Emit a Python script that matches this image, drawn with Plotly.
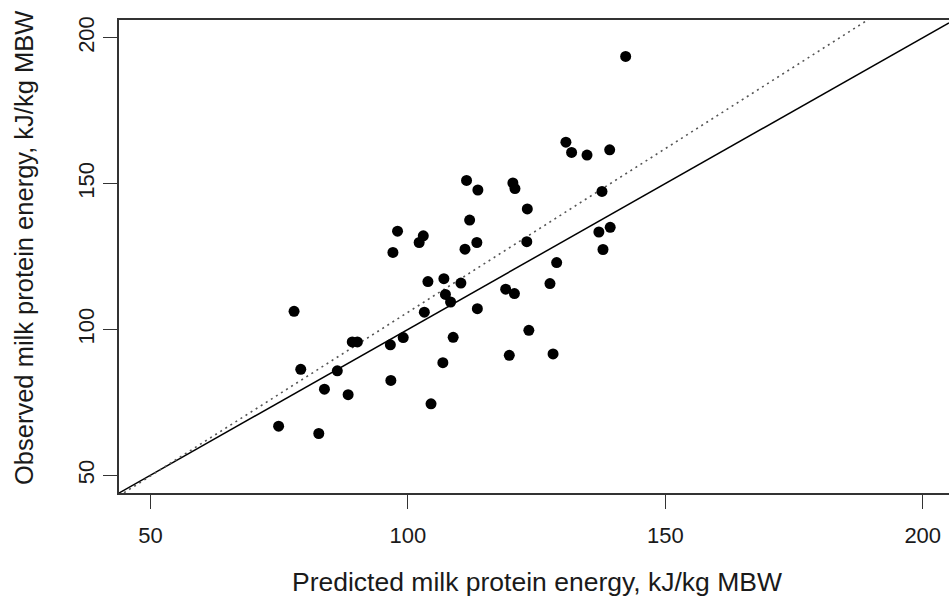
import plotly.graph_objects as go

# Predicted (x) and observed (y) milk protein energy, kJ/kg MBW
predicted = [142.3, 130.7, 131.8, 134.8, 139.2, 137.7, 111.4, 113.6, 120.4, 120.8,
             123.2, 112.0, 98.0, 103.0, 102.2, 113.4, 123.1, 111.1, 97.1, 137.1,
             139.3, 137.9, 77.9, 103.9, 107.0, 110.3, 128.9, 127.6, 119.0, 120.7,
             107.3, 108.3, 103.2, 113.5, 123.5, 89.2, 90.2, 99.1, 96.6, 108.8,
             79.2, 86.3, 106.8, 119.7, 128.2, 96.7, 83.8, 88.4, 104.5, 74.9, 82.7]
observed = [193.6, 164.2, 160.7, 159.8, 161.6, 147.3, 151.1, 147.8, 150.2, 148.3,
            141.3, 137.5, 133.7, 132.1, 129.8, 129.8, 130.1, 127.5, 126.4, 133.4,
            135.0, 127.4, 106.2, 116.4, 117.4, 115.9, 122.9, 115.7, 113.8, 112.3,
            112.0, 109.4, 105.9, 107.1, 99.7, 95.7, 95.7, 97.2, 94.7, 97.3,
            86.3, 85.8, 88.6, 91.1, 91.6, 82.5, 79.5, 77.6, 74.5, 66.8, 64.3]

tick_vals = [50, 100, 150, 200]
tick_text = ["50", "100", "150", "200"]

X_RANGE = [43.9, 205.1]
Y_RANGE = [43.9, 206.1]

# fitted regression line (dotted) and 1:1 line (solid)
REG_SLOPE = 1.1225
REG_INTERCEPT = -6.39

FONT = "Liberation Sans, Arial, Helvetica, sans-serif"

fig = go.Figure()

fig.add_trace(go.Scatter(
    x=X_RANGE, y=X_RANGE, mode="lines",
    line=dict(color="black", width=1.5), showlegend=False, hoverinfo="skip"))

fig.add_trace(go.Scatter(
    x=X_RANGE, y=[REG_SLOPE * v + REG_INTERCEPT for v in X_RANGE], mode="lines",
    line=dict(color="#555555", width=1.6, dash="2px,4px"), showlegend=False, hoverinfo="skip"))

fig.add_trace(go.Scatter(
    x=predicted, y=observed, mode="markers",
    marker=dict(color="black", size=11, line=dict(width=0)),
    showlegend=False, cliponaxis=False))

fig.update_layout(
    width=949, height=602,
    margin=dict(l=119, r=0, t=20, b=109),
    paper_bgcolor="white", plot_bgcolor="white",
    font=dict(family=FONT, size=22, color="#1a1a1a"),
    xaxis=dict(range=X_RANGE, tickvals=tick_vals, ticktext=tick_text,
               showgrid=False, zeroline=False, showline=True, mirror=True,
               linecolor="#333333", linewidth=1.5, ticks="outside", ticklen=14,
               tickwidth=1.2, tickcolor="#333333", ticklabelstandoff=8),
    yaxis=dict(range=Y_RANGE, tickvals=tick_vals, ticktext=tick_text,
               showgrid=False, zeroline=False, showline=True, mirror=False,
               linecolor="#333333", linewidth=1.5, ticks="outside", ticklen=14,
               tickwidth=1.2, tickcolor="#333333", tickangle=-90, ticklabelstandoff=0),
    annotations=[
        dict(text="Predicted milk protein energy, kJ/kg MBW", xref="paper", yref="paper",
             x=(537 - 119) / 830, y=-(582 - 493) / 473, xanchor="center", yanchor="middle",
             showarrow=False, font=dict(size=26.5, family=FONT, color="#1a1a1a")),
        dict(text="Observed milk protein energy, kJ/kg MBW", xref="paper", yref="paper",
             x=-(119 - 24) / 830, y=(493 - 248) / 473, xanchor="center", yanchor="middle",
             textangle=-90, showarrow=False, font=dict(size=25.5, family=FONT, color="#1a1a1a")),
    ],
)

fig.write_html("out.html", config={"displayModeBar": False},
               post_script="document.body.style.margin='0px';document.body.style.overflow='hidden';")
